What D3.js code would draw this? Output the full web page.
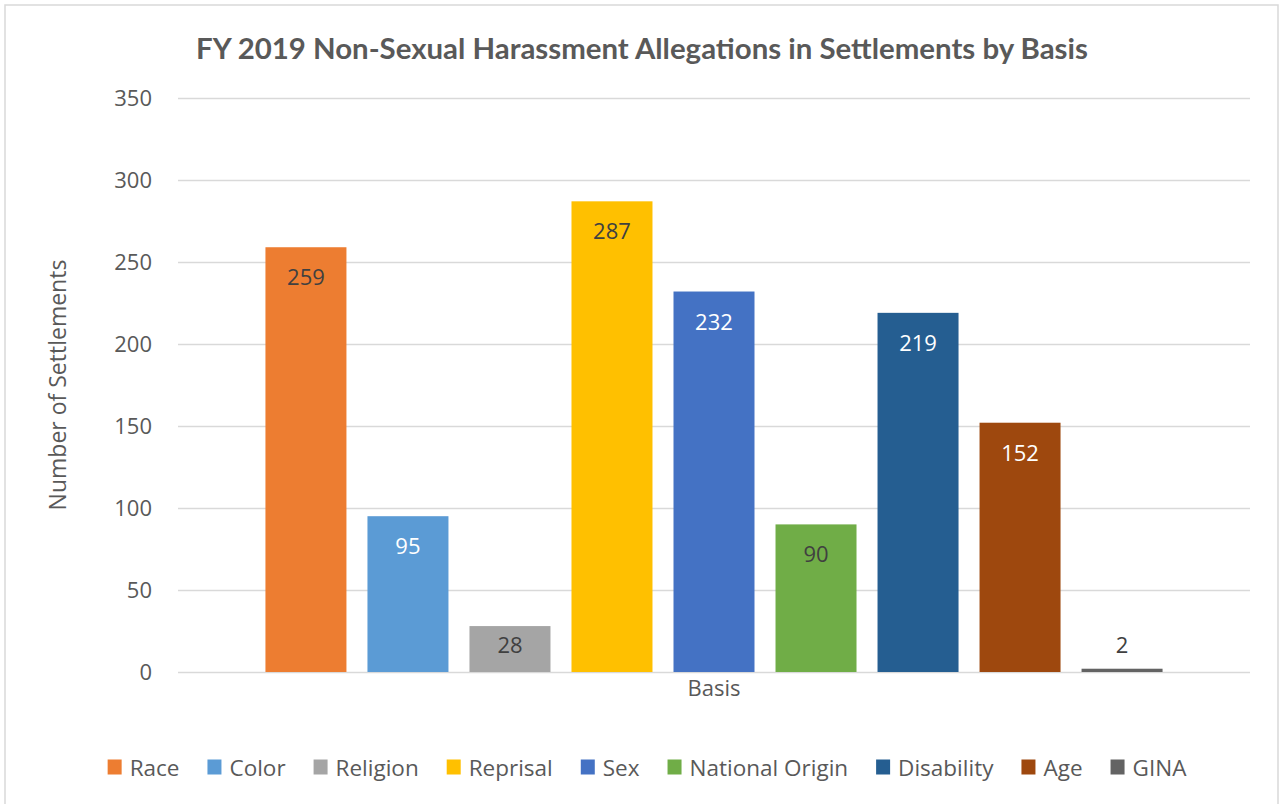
<!DOCTYPE html>
<html>
<head>
<meta charset="utf-8">
<script src="https://cdn.jsdelivr.net/npm/d3@7/dist/d3.min.js"></script>
<style>
  html, body { margin: 0; padding: 0; background: #fff; }
  svg { display: block; }
  text { font-family: "Open Sans", "Noto Sans", sans-serif; }
</style>
</head>
<body>
<svg id="chart" width="1281" height="804"></svg>
<script>
// Chart data
const categories = ["Basis"];
const seriesNames = ["Race", "Color", "Religion", "Reprisal", "Sex", "National Origin", "Disability", "Age", "GINA"];
const seriesValues = [259, 95, 28, 287, 232, 90, 219, 152, 2];
const seriesColors = ["#ED7D31", "#5B9BD5", "#A5A5A5", "#FFC000", "#4472C4", "#70AD47", "#255E91", "#9E480E", "#636363"];
const labelColors = ["#404040", "#FFFFFF", "#404040", "#404040", "#FFFFFF", "#404040", "#FFFFFF", "#FFFFFF", "#404040"];
const yTicks = [0, 50, 100, 150, 200, 250, 300, 350];
const titleText = "FY 2019 Non-Sexual Harassment Allegations in Settlements by Basis";
const yAxisTitle = "Number of Settlements";

const svg = d3.select("#chart");
const plot = { left: 178, right: 1250, top: 98, bottom: 672 };
const textGrey = "#595959";
const gridGrey = "#D9D9D9";

// chart frame
svg.append("rect")
  .attr("x", 5).attr("y", 5)
  .attr("width", 1273).attr("height", 810)
  .attr("fill", "#fff")
  .attr("stroke", "#D9D9D9").attr("stroke-width", 1.5);

// title, sized to its layout width
const title = svg.append("text")
  .attr("x", 642).attr("y", 47)
  .attr("text-anchor", "middle")
  .attr("dominant-baseline", "central")
  .style("font-family", "Lato, 'Open Sans', sans-serif")
  .style("font-weight", 700)
  .style("font-size", "26px")
  .attr("fill", textGrey)
  .text(titleText);
const tw = title.node().getComputedTextLength();
title.style("font-size", (26 * 892 / tw).toFixed(2) + "px");

// scales
const y = d3.scaleLinear().domain([0, 350]).range([plot.bottom, plot.top]);
const x0 = d3.scaleBand().domain(categories).range([plot.left, plot.right])
  .paddingInner(0).paddingOuter(0.0838);
const x1 = d3.scaleBand().domain(seriesNames).range([0, x0.bandwidth()])
  .paddingInner(0.206).paddingOuter(0.103);

// gridlines and value axis
const yAxis = svg.append("g")
  .attr("transform", `translate(${plot.left},0)`)
  .call(d3.axisLeft(y).tickValues(yTicks).tickSize(-(plot.right - plot.left)).tickPadding(26));
yAxis.select(".domain").remove();
yAxis.selectAll(".tick line").attr("stroke", gridGrey).attr("stroke-width", 1.6);
yAxis.selectAll(".tick text")
  .attr("fill", textGrey)
  .style("font-family", "'Open Sans', sans-serif")
  .style("font-size", "22px");

// category axis
const xAxis = svg.append("g")
  .attr("transform", `translate(0,${plot.bottom})`)
  .call(d3.axisBottom(x0).tickSize(0).tickPadding(8));
xAxis.select(".domain").remove();
xAxis.selectAll(".tick text")
  .attr("fill", textGrey)
  .style("font-size", "22px");

// value axis title
svg.append("text")
  .attr("transform", "translate(57,385) rotate(-90)")
  .attr("text-anchor", "middle")
  .attr("dominant-baseline", "central")
  .attr("fill", textGrey)
  .style("font-size", "23px")
  .text(yAxisTitle);

// bars
const rows = seriesNames.map((name, i) => ({
  name, value: seriesValues[i], color: seriesColors[i], labelColor: labelColors[i]
}));

const group = svg.append("g").selectAll("g")
  .data(categories)
  .join("g")
  .attr("transform", d => `translate(${x0(d)},0)`);

group.selectAll("rect")
  .data(rows)
  .join("rect")
  .attr("x", d => x1(d.name))
  .attr("y", d => y(d.value))
  .attr("width", x1.bandwidth())
  .attr("height", d => y(0) - y(d.value))
  .attr("fill", d => d.color);

// data labels: inside the top of the bar, above it when the bar is too short
group.selectAll("text.value")
  .data(rows)
  .join("text")
  .attr("class", "value")
  .attr("x", d => x1(d.name) + x1.bandwidth() / 2)
  .attr("y", d => {
    const h = y(0) - y(d.value);
    if (h < 20) return y(d.value) - 25;
    return y(d.value) + Math.min(29, h * 0.4);
  })
  .attr("text-anchor", "middle")
  .attr("dominant-baseline", "central")
  .attr("fill", d => (y(0) - y(d.value) < 20 ? "#404040" : d.labelColor))
  .style("font-size", "22px")
  .text(d => d.value);

// legend
const legend = svg.append("g");
const swatch = 14, swGap = 8, itemGap = 28;
let cx = 0;
const items = rows.map(d => {
  const t = legend.append("text")
    .attr("dominant-baseline", "central")
    .attr("fill", textGrey)
    .style("font-size", "22.5px")
    .text(d.name);
  const w = t.node().getComputedTextLength();
  const item = { d, t, x: cx, w };
  cx += swatch + swGap + w + itemGap;
  return item;
});
const total = cx - itemGap;
const lx = 647 - total / 2;
const ly = 767;
items.forEach(it => {
  legend.append("rect")
    .attr("x", lx + it.x).attr("y", ly - 7.5)
    .attr("width", swatch).attr("height", 15)
    .attr("fill", it.d.color);
  it.t.attr("x", lx + it.x + swatch + swGap).attr("y", ly);
});
</script>
</body>
</html>
